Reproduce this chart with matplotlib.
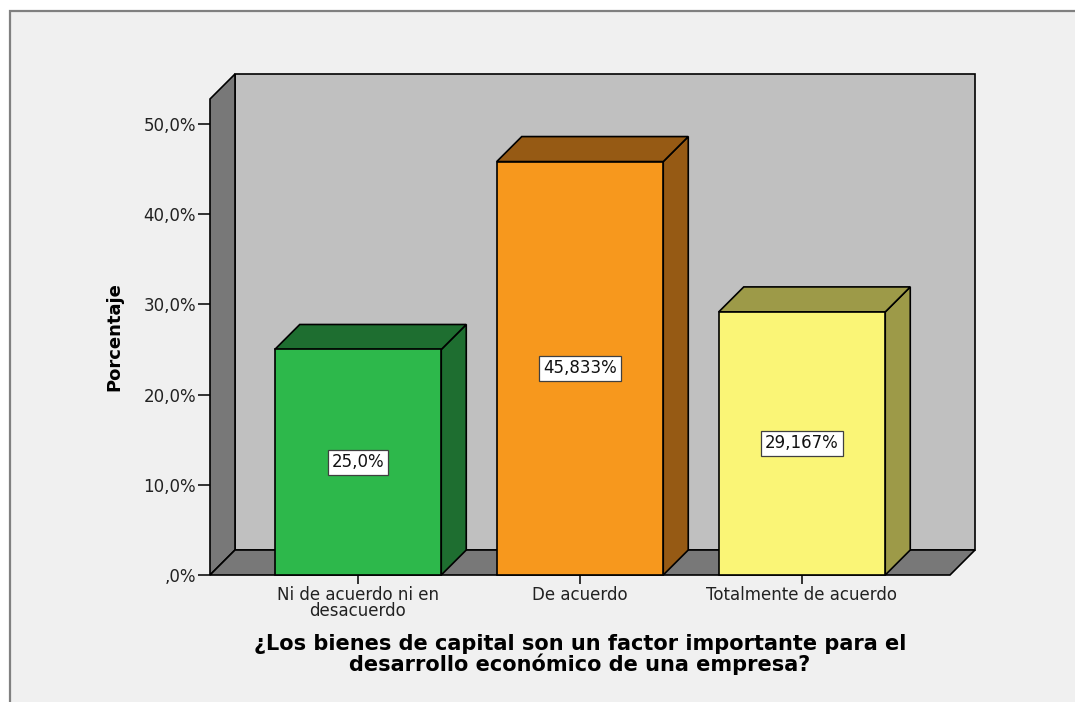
import matplotlib
matplotlib.use("Agg")
import matplotlib.pyplot as plt
from matplotlib.patches import Polygon, Rectangle
from matplotlib.ticker import FuncFormatter

# datos
categorias = ["Ni de acuerdo ni en\ndesacuerdo", "De acuerdo", "Totalmente de acuerdo"]
porcentajes = [25.0, 45.833, 29.167]
etiquetas = ["25,0%", "45,833%", "29,167%"]
yticks = [0, 10, 20, 30, 40, 50]
titulo_x = "¿Los bienes de capital son un factor importante para el\ndesarrollo económico de una empresa?"
titulo_y = "Porcentaje"

col_frente = ["#2db84b", "#f7981d", "#faf576"]
col_lado = ["#1e6e30", "#965a14", "#9d9a48"]
col_fondo = "#c0c0c0"
col_pared = "#787878"

W, H = 1075, 702
fig = plt.figure(figsize=(W / 100, H / 100), dpi=100, facecolor="white")

# marco exterior del grafico (SPSS), solo bordes izquierdo y superior visibles
fig.patches.append(Rectangle((10 / W, -0.5), 2.0, 1.5 - 11 / H,
                             transform=fig.transFigure, facecolor="#f0f0f0",
                             edgecolor="#808080", linewidth=1.6, zorder=-5))

# ejes: frente del piso entre x=210..950 px, y=575..99 px
ax = fig.add_axes([210 / W, 1 - 575 / H, 740 / W, 476 / H])
ax.patch.set_visible(False)
xmin, xmax = -2 / 3, 2 + 2 / 3
ymax = 52.77
ax.set_xlim(xmin, xmax)
ax.set_ylim(0, ymax)
for s in ax.spines.values():
    s.set_visible(False)

dx = 25 / 222          # profundidad en unidades de categoria
dy = 25 / (451 / 50)   # profundidad en unidades de porcentaje
ancho = 0.75
lw = 1.2

def poly(pts, color, z):
    ax.add_patch(Polygon(pts, closed=True, facecolor=color, edgecolor="black",
                         linewidth=lw, joinstyle="miter", clip_on=False, zorder=z))

# pared trasera, pared lateral y piso
poly([(xmin + dx, dy), (xmax + dx, dy), (xmax + dx, ymax + dy), (xmin + dx, ymax + dy)], col_fondo, 1)
poly([(xmin, 0), (xmin + dx, dy), (xmin + dx, ymax + dy), (xmin, ymax)], col_pared, 2)
poly([(xmin, 0), (xmax, 0), (xmax + dx, dy), (xmin + dx, dy)], col_pared, 2)

# barras 3D
for i, v in enumerate(porcentajes):
    x0, x1 = i - ancho / 2, i + ancho / 2
    poly([(x1, 0), (x1 + dx, dy), (x1 + dx, v + dy), (x1, v)], col_lado[i], 3)
    poly([(x0, v), (x1, v), (x1 + dx, v + dy), (x0 + dx, v + dy)], col_lado[i], 3)
    poly([(x0, 0), (x1, 0), (x1, v), (x0, v)], col_frente[i], 4)
    ax.text(i, v / 2, etiquetas[i], ha="center", va="center", fontsize=12,
            color="#111111", zorder=6,
            bbox=dict(boxstyle="square,pad=0.22", facecolor="white",
                      edgecolor="#404040", linewidth=0.9))

# ejes y etiquetas
ax.set_yticks(yticks)
ax.yaxis.set_major_formatter(FuncFormatter(
    lambda v, p: ("%.1f%%" % v).replace(".", ",").lstrip("0") if v == 0 else ("%.1f%%" % v).replace(".", ",")))
ax.set_xticks(range(len(categorias)))
ax.set_xticklabels(categorias, linespacing=0.88)
ax.tick_params(axis="y", direction="out", length=8.5, width=1.3, pad=1.5,
               labelsize=12, colors="#222222")
ax.tick_params(axis="x", direction="out", length=6.5, width=1.3, pad=1.5,
               labelsize=12, colors="#222222")

ax.set_ylabel(titulo_y, fontsize=13, fontweight="bold", color="black")
ax.yaxis.set_label_coords(-0.117, 0.5)
ax.set_xlabel(titulo_x, fontsize=15, fontweight="bold", color="black", linespacing=0.92)
ax.xaxis.set_label_coords(0.5, -0.125)

fig.savefig("out.png", dpi=100, facecolor=fig.get_facecolor())
